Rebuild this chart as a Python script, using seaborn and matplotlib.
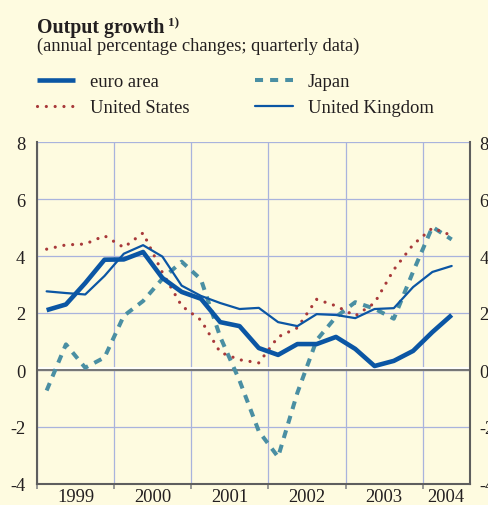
import numpy as np
import pandas as pd
import matplotlib
matplotlib.use("Agg")
import matplotlib.pyplot as plt
import matplotlib.transforms as mtransforms
import seaborn as sns

# ---------------- data ----------------
quarters = ["1999Q1", "1999Q2", "1999Q3", "1999Q4",
            "2000Q1", "2000Q2", "2000Q3", "2000Q4",
            "2001Q1", "2001Q2", "2001Q3", "2001Q4",
            "2002Q1", "2002Q2", "2002Q3", "2002Q4",
            "2003Q1", "2003Q2", "2003Q3", "2003Q4",
            "2004Q1", "2004Q2"]
euro_area = [2.10, 2.30, 3.05, 3.87, 3.88, 4.14, 3.23, 2.74, 2.50, 1.68, 1.54,
             0.77, 0.53, 0.91, 0.91, 1.16, 0.74, 0.14, 0.32, 0.67, 1.33, 1.93]
united_states = [4.24, 4.39, 4.42, 4.71, 4.30, 4.81, 3.42, 2.25, 1.75, 0.62, 0.36,
                 0.25, 1.16, 1.48, 2.48, 2.25, 1.90, 2.35, 3.52, 4.40, 4.98, 4.72]
japan = [-0.72, 0.90, 0.08, 0.44, 1.90, 2.42, 3.20, 3.80, 3.18, 1.16, -0.37,
         -2.15, -3.05, -0.80, 1.05, 1.86, 2.38, 2.15, 1.80, 3.45, 5.02, 4.58]
united_kingdom = [2.76, 2.70, 2.65, 3.30, 4.08, 4.38, 3.98, 2.96, 2.60, 2.35, 2.14,
                  2.18, 1.68, 1.54, 1.96, 1.93, 1.82, 2.14, 2.17, 2.91, 3.44, 3.65]
year_labels = ["1999", "2000", "2001", "2002", "2003", "2004"]
y_ticks = [-4, -2, 0, 2, 4, 6, 8]

series_names = ["euro area", "United States", "Japan", "United Kingdom"]

# ---------------- style ----------------
sns.set_theme(style="white")
plt.rcParams["font.family"] = ["Liberation Serif", "DejaVu Serif"]
plt.rcParams["text.color"] = "#231F20"

BG = "#FEFBE0"
GRID = "#A9B3DD"
SPINE = "#5E5E5E"
BLUE = "#0B56A4"
RED = "#A8393A"
TEAL = "#4A8FA3"

W, H = 488, 506
fig = plt.figure(figsize=(W / 100, H / 100), dpi=100, facecolor=BG)
L, R, T, B = 37, 470, 143, 485
ax = fig.add_axes([L / W, 1 - B / H, (R - L) / W, (B - T) / H])
ax.set_facecolor(BG)

pos = np.arange(len(quarters)) + 0.5
df = pd.DataFrame({"pos": pos, "quarter": quarters,
                   "euro area": euro_area, "United States": united_states,
                   "Japan": japan, "United Kingdom": united_kingdom})

styles = {
    "Japan": dict(color=TEAL, lw=2.9, linestyle=(0, (2.0, 1.75)),
                  dash_capstyle="butt", zorder=3),
    "United States": dict(color=RED, lw=2.3, linestyle=(0, (0.01, 2.75)),
                          dash_capstyle="round", zorder=4),
    "United Kingdom": dict(color=BLUE, lw=1.6, zorder=5),
    "euro area": dict(color=BLUE, lw=3.3, zorder=6, solid_capstyle="butt"),
}
for name in ["Japan", "United States", "United Kingdom", "euro area"]:
    sns.lineplot(data=df, x="pos", y=name, ax=ax, label=name, legend=False,
                 **styles[name])

ax.set_xlim(0, 22.45)
ax.set_ylim(-4, 8)
ax.set_xlabel("")
ax.set_ylabel("")

# grid
ax.set_xticks([0, 4, 8, 12, 16, 20])
ax.set_xticklabels([])
ax.set_xticks([2, 6, 10, 14, 18, 21.22], minor=True)
ax.set_xticklabels(year_labels, minor=True)
ax.set_yticks(y_ticks)
ax.set_yticklabels([str(v) for v in y_ticks])
ax.grid(True, which="major", color=GRID, lw=0.9)
ax.set_axisbelow(True)

# zero line (white highlight over grey)
ax.axhline(0, color="#777777", lw=1.6, zorder=1.8)
off = mtransforms.offset_copy(ax.get_yaxis_transform(), fig=fig, x=0, y=1.6, units="dots")
ax.plot([0, 1], [0, 0], transform=off, color="white", lw=1.3, zorder=1.9)

for s in ["left", "bottom", "right"]:
    ax.spines[s].set_color(SPINE)
    ax.spines[s].set_linewidth(1.5)
ax.spines["top"].set_visible(False)

ax.tick_params(axis="x", which="major", length=3.5, width=1.2, color="#888888",
               direction="out", bottom=True)
ax.tick_params(axis="x", which="minor", length=0, pad=3, labelsize=13.3,
               labelcolor="#231F20", bottom=True)
ax.tick_params(axis="y", length=0, pad=8.5, labelsize=13.3, labelcolor="#231F20", left=True)

# right-hand axis labels (cut by figure edge as in reference)
ax2 = ax.twinx()
ax2.set_ylim(-4, 8)
ax2.set_yticks(y_ticks)
ax2.set_yticklabels([str(v) for v in y_ticks])
ax2.tick_params(axis="y", length=0, pad=7, labelsize=13.3, labelcolor="#231F20", right=True)
ax2.grid(False)
for s in ax2.spines.values():
    s.set_visible(False)

# titles
fig.text(L / W, 1 - 33 / H, "Output growth", fontsize=14.3, fontweight="bold",
         va="baseline", ha="left")
fig.text(168 / W, 1 - 26 / H, "1)", fontsize=9.5, fontweight="bold",
         va="baseline", ha="left")
fig.text(L / W, 1 - 50.5 / H, "(annual percentage changes; quarterly data)",
         fontsize=13.3, va="baseline", ha="left")

# legend
handles, labels = ax.get_legend_handles_labels()
order = [labels.index(n) for n in series_names]
leg = fig.legend([handles[i] for i in order], [labels[i] for i in order],
                 loc="upper left", bbox_to_anchor=(L / W, 1 - 74 / H), ncol=2,
                 frameon=False, fontsize=13.4, handlelength=2.05, handletextpad=0.8,
                 columnspacing=3.5, labelspacing=0.5, borderpad=0, borderaxespad=0)

fig.savefig("out.png", dpi=100, facecolor=BG)
